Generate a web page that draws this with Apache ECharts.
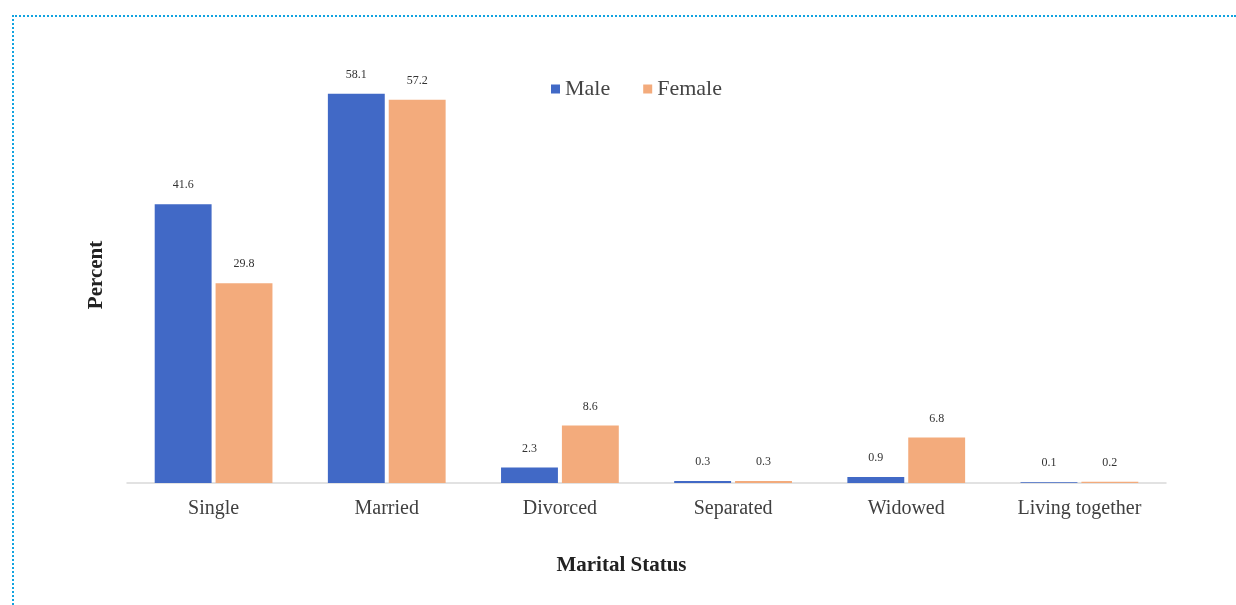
<!DOCTYPE html>
<html>
<head>
<meta charset="utf-8">
<script src="https://cdn.jsdelivr.net/npm/echarts@6/dist/echarts.min.js"></script>
<style>
  html, body { margin: 0; padding: 0; background: #ffffff; }
  #frame { position: absolute; left: 12px; top: 15px; width: 1224px; height: 590px;
           border-top: 2px dotted #12a3e0; border-left: 2px dotted #12a3e0; box-sizing: border-box; }
  #chart { position: absolute; left: 0; top: 0; width: 1236px; height: 605px; }
</style>
</head>
<body>
<div id="frame"></div>
<div id="chart"></div>
<script>
const categories = ['Single', 'Married', 'Divorced', 'Separated', 'Widowed', 'Living together'];
const maleValues = [41.6, 58.1, 2.3, 0.3, 0.9, 0.1];
const femaleValues = [29.8, 57.2, 8.6, 0.3, 6.8, 0.2];
const seriesNames = ['Male', 'Female'];

const serif = '"Liberation Serif", "DejaVu Serif", serif';
const chart = echarts.init(document.getElementById('chart'));
const labelStyle = {
  show: true, position: 'top', distance: 13, fontFamily: serif, fontSize: 12,
  color: '#333', formatter: p => p.value.toFixed(1)
};
chart.setOption({
  animation: false,
  backgroundColor: 'transparent',
  grid: { left: 127, right: 70, top: 81, bottom: 122 },
  legend: {
    data: seriesNames, top: 73, left: 546,
    itemWidth: 9, itemHeight: 9, itemGap: 33, icon: 'rect',
    textStyle: { fontFamily: serif, fontSize: 22, color: '#444' }
  },
  xAxis: {
    type: 'category', data: categories,
    axisLine: { lineStyle: { color: '#d9d9d9', width: 1.5 } },
    axisTick: { show: false },
    axisLabel: { fontFamily: serif, fontSize: 20, color: '#404040', margin: 16 },
    name: 'Marital Status', nameLocation: 'middle', nameGap: 72,
    nameTextStyle: { fontFamily: serif, fontSize: 21, fontWeight: 'bold', color: '#222',
                     padding: [0, 50, 0, 0] }
  },
  yAxis: {
    type: 'value', min: 0, max: 60, show: true,
    axisLine: { show: false }, axisTick: { show: false }, axisLabel: { show: false },
    splitLine: { show: false },
    name: 'Percent', nameLocation: 'middle', nameGap: 20, nameRotate: 90,
    nameTextStyle: { fontFamily: serif, fontSize: 21, fontWeight: 'bold', color: '#222',
                     padding: [0, 0, 0, 14] }
  },
  series: [
    { name: seriesNames[0], type: 'bar', data: maleValues, barGap: '7%', barCategoryGap: '32%',
      itemStyle: { color: '#4169c6' }, label: labelStyle },
    { name: seriesNames[1], type: 'bar', data: femaleValues,
      itemStyle: { color: '#f3ab7c' }, label: labelStyle }
  ]
});
</script>
</body>
</html>
